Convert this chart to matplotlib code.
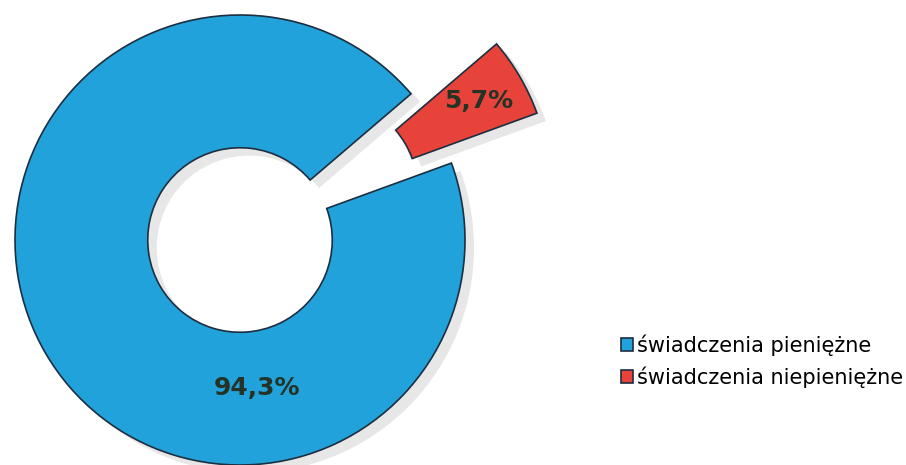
import numpy as np
import matplotlib
matplotlib.use('Agg')
import matplotlib.pyplot as plt

labels = ['świadczenia pieniężne', 'świadczenia niepieniężne']
values = [94.3, 5.7]
pct_text = ['94,3%', '5,7%']
colors = ['#22a2da', '#e8433b']
explode = [0.0, 0.44]

# red slice sits around 20-41 deg, blue takes the rest
start = 20.0
order = [1, 0]

fig = plt.figure(figsize=(9.06, 4.65), dpi=100)
ax = fig.add_axes([0, 0, 1, 1])
r_px = 225.0
ax.set_aspect('equal')
ax.axis('off')

vals = [values[i] for i in order]
cols = [colors[i] for i in order]
exps = [explode[i] for i in order]

# soft shadow
ax.pie(vals, explode=exps, startangle=start, colors=['#b0b0b0'] * 2,
       radius=1.0, center=(0.04, -0.035), counterclock=True,
       wedgeprops=dict(width=0.59, linewidth=0, alpha=0.3))

wedges, _ = ax.pie(vals, explode=exps, startangle=start, colors=cols,
                   radius=1.0, counterclock=True,
                   wedgeprops=dict(width=0.59, edgecolor='#1c2e40', linewidth=1.2))
ax.set_xlim(-240 / r_px, (906 - 240) / r_px)
ax.set_ylim(-225 / r_px, 240 / r_px)

# labels
red_mid = np.deg2rad(start + values[1] * 3.6 / 2)
off = explode[1]
rx = (off + 0.79) * np.cos(red_mid)
ry = (off + 0.79) * np.sin(red_mid)
ax.text(rx, ry, pct_text[1], ha='center', va='center', fontsize=18,
        fontweight='bold', color='#243326')
blue_ang = np.deg2rad(-83.5)
ax.text(0.66 * np.cos(blue_ang), 0.66 * np.sin(blue_ang), pct_text[0],
        ha='center', va='center', fontsize=18, fontweight='bold', color='#243326')

handles = [wedges[order.index(0)], wedges[order.index(1)]]
ax.legend(handles, labels, loc='center left', bbox_to_anchor=(0.685, 0.224),
          bbox_transform=fig.transFigure, frameon=False, fontsize=15,
          handlelength=0.58, handleheight=0.58, handletextpad=0.2,
          labelspacing=0.5, borderpad=0, borderaxespad=0)

fig.savefig('out.png', dpi=100)
